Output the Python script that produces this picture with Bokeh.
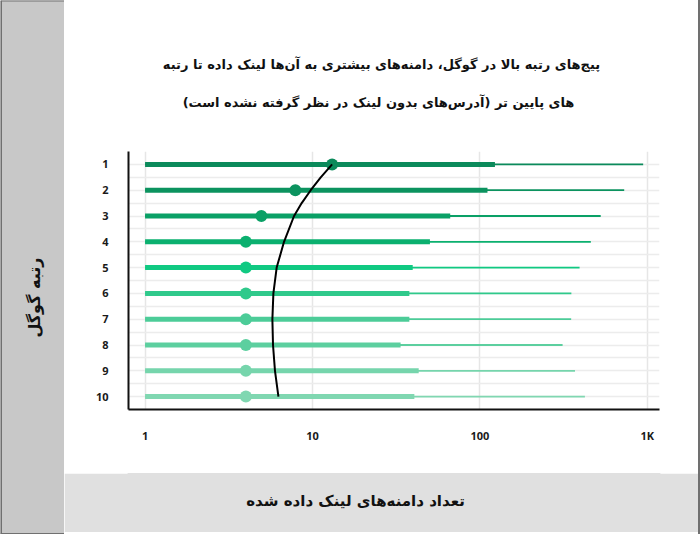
import math
from bokeh.plotting import figure
from bokeh.layouts import row, column
from bokeh.models import Range1d, FixedTicker, ColumnDataSource
from bokeh.core.properties import value
from bokeh.embed import file_html
from bokeh.resources import INLINE

# ---------------- data ----------------
ranks = [1, 2, 3, 4, 5, 6, 7, 8, 9, 10]
rank_labels = ["1", "2", "3", "4", "5", "6", "7", "8", "9", "10"]
median_links = [13.1, 7.9, 4.95, 4.0, 4.0, 4.0, 4.0, 4.0, 4.0, 4.0]
upper_links = [123, 111, 66.5, 50.3, 39.7, 37.9, 37.9, 33.6, 43.1, 40.6]
max_links = [945, 728, 527, 460, 394, 352, 351, 312, 370, 424]
row_colors = ["#0b8a5b", "#0c935f", "#0aa066", "#0bb06f", "#10c982",
              "#2fc98b", "#4ccc98", "#5ccf9f", "#76d5ac", "#80d7b1"]
trend_rank = [1, 1.5, 2, 2.5, 3, 4, 5, 6, 7, 8, 9, 10]
trend_links = [13.1, 11.2, 9.76, 8.62, 7.76, 6.76, 6.11, 5.84, 5.76, 5.81, 5.97, 6.26]
x_ticks = [1, 10, 100, 1000]
x_tick_labels = ["1", "10", "100", "1K"]
bar_start = 1

title_lines = ["پیج‌های رتبه بالا در گوگل، دامنه‌های بیشتری به آن‌ها لینک داده تا رتبه",
               "های پایین تر (آدرس‌های بدون لینک در نظر گرفته نشده است)"]
y_title = "رتبه گوگل"
x_title = "تعداد دامنه‌های لینک داده شده"

FA_FONT = value("DejaVu Sans")
EDGE = "#707070"
COL_W = 634          # right column width
BL, BR = 64, 39      # shared left/right borders of the column's plots


def panel_fig(w, h, bg, xr, yr, bl=0, br=0):
    f = figure(width=w, height=h, output_backend="svg", toolbar_location=None,
               x_range=xr, y_range=yr,
               x_axis_location=None, y_axis_location=None,
               min_border=0, min_border_left=bl, min_border_right=br,
               background_fill_color=bg, border_fill_color=bg)
    f.grid.visible = False
    f.outline_line_color = bg
    f.outline_line_width = 2
    return f


# ---------------- left panel (screen coords 0..64 x 0..534) ----------------
left = panel_fig(64, 534, "#c8c8c8", Range1d(0, 64), Range1d(534, 0))
left.outline_line_color = None
left.text(x=[34], y=[297], text=[y_title], angle=math.pi / 2,
          text_font=FA_FONT, text_font_style="bold", text_font_size="16px",
          text_color="#111111", text_align="center", text_baseline="middle")
left.line(x=[0, 0], y=[0, 534], line_color=EDGE, line_width=3)
left.line(x=[0, 64], y=[0, 0], line_color=EDGE, line_width=2)
left.line(x=[0, 64], y=[534, 534], line_color=EDGE, line_width=3)

# ---------------- strips for the outer frame ----------------
top_strip = panel_fig(COL_W, 1, EDGE, Range1d(0, 1), Range1d(0, 1), BL, BR)
bottom_strip = panel_fig(COL_W, 2, EDGE, Range1d(0, 1), Range1d(0, 1), BL, BR)
right_strip = panel_fig(2, 534, EDGE, Range1d(0, 1), Range1d(0, 1))

# ---------------- title panel (data == screen coords) ----------------
tfig = panel_fig(COL_W, 137, "#ffffff", Range1d(128, 659), Range1d(138, 1), BL, BR)
tfig.text(x=[381, 378], y=[64, 102], text=title_lines,
          text_font=FA_FONT, text_font_style="bold", text_font_size="13px",
          text_color="#111111", text_align="center", text_baseline="middle")

# ---------------- main chart ----------------
p = figure(width=COL_W, height=335, output_backend="svg", toolbar_location=None,
           x_axis_type="log", x_range=Range1d(0.796, 1183), y_range=Range1d(10.5, 0.5),
           min_border_left=BL, min_border_right=BR, min_border_top=13, min_border_bottom=64,
           background_fill_color="#ffffff", border_fill_color="#ffffff")
p.outline_line_color = None

src = ColumnDataSource(dict(rank=ranks, med=median_links, up=upper_links, mx=max_links,
                            start=[bar_start] * len(ranks), color=row_colors))
p.segment(x0="start", y0="rank", x1="mx", y1="rank", source=src,
          line_color="color", line_width=1.8, line_cap="butt")
p.segment(x0="start", y0="rank", x1="up", y1="rank", source=src,
          line_color="color", line_width=5, line_cap="butt")
p.scatter(x="med", y="rank", source=src, size=12, fill_color="color",
          line_color="color", line_width=0)
p.line(x=trend_links, y=trend_rank, line_color="#000000", line_width=2)

p.xaxis.ticker = FixedTicker(ticks=x_ticks)
p.xaxis.major_label_overrides = {t: l for t, l in zip(x_ticks, x_tick_labels)}
p.yaxis.ticker = FixedTicker(ticks=ranks)
p.yaxis.major_label_overrides = {r: l for r, l in zip(ranks, rank_labels)}
for ax in (p.xaxis, p.yaxis):
    ax.axis_line_color = "#111111"
    ax.axis_line_width = 2
    ax.major_tick_line_color = None
    ax.minor_tick_line_color = None
    ax.major_label_text_font = "Open Sans"
    ax.major_label_text_font_style = "bold"
    ax.major_label_text_font_size = "11px"
    ax.major_label_text_color = "#1a1a1a"
p.xaxis.major_label_standoff = 12
p.yaxis.major_label_standoff = 14

p.xgrid.ticker = FixedTicker(ticks=x_ticks)
p.xgrid.grid_line_color = "#e6e6e6"
p.xgrid.grid_line_width = 1.5
p.ygrid.ticker = FixedTicker(ticks=[0.5 + 0.5 * i for i in range(21)])
p.ygrid.grid_line_color = "#ececec"
p.ygrid.grid_line_width = 1.5

# ---------------- bottom panel (data == screen coords) ----------------
bfig = panel_fig(COL_W, 59, "#e0e0e0", Range1d(128, 659), Range1d(532, 473), BL, BR)
bfig.text(x=[355], y=[500], text=[x_title],
          text_font=FA_FONT, text_font_style="bold", text_font_size="15px",
          text_color="#111111", text_align="center", text_baseline="middle")

layout = row(left,
             column(top_strip, tfig, p, bfig, bottom_strip, spacing=0),
             right_strip, spacing=0)

open("out.html", "w").write(file_html(layout, INLINE))
